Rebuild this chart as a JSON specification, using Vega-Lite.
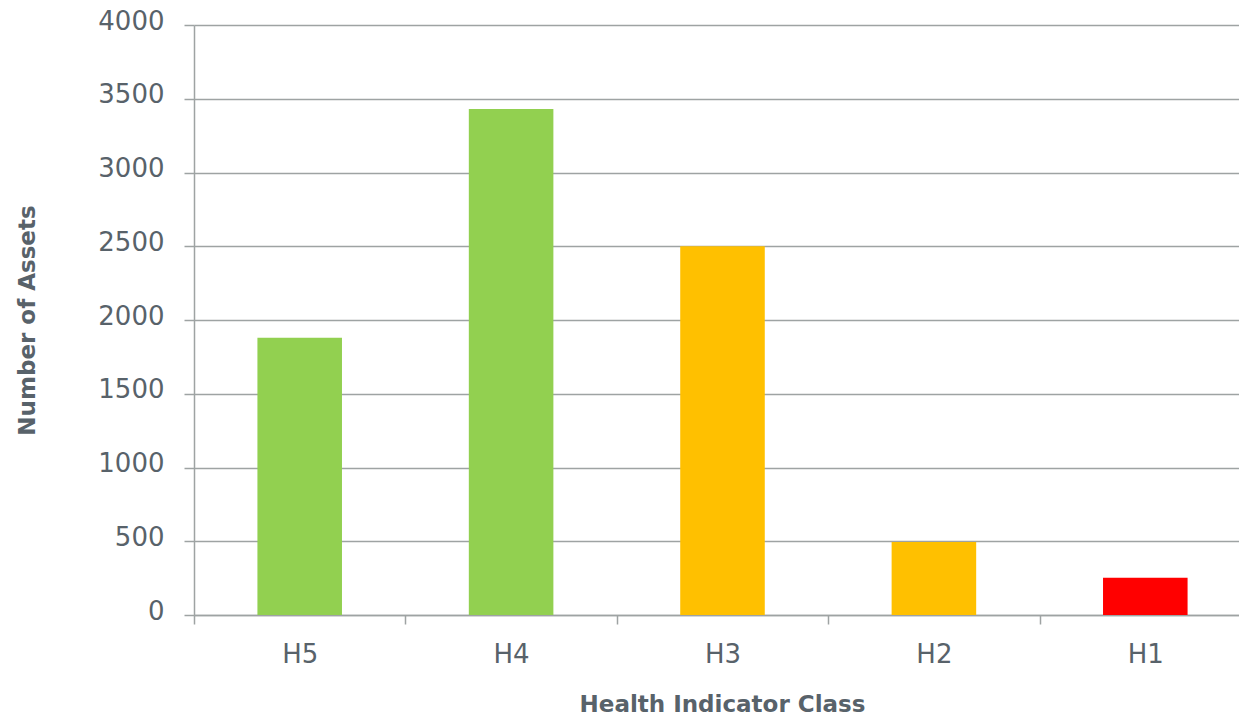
{
  "$schema": "https://vega.github.io/schema/vega-lite/v6.json",
  "autosize": {"type": "none"},
  "padding": {"left": 194, "top": 25, "right": 0, "bottom": 101},
  "width": 1045,
  "height": 590,
  "background": "white",
  "data": {
    "values": [
      {"cls": "H5", "assets": 1880, "grp": "good"},
      {"cls": "H4", "assets": 3430, "grp": "good"},
      {"cls": "H3", "assets": 2500, "grp": "fair"},
      {"cls": "H2", "assets": 495, "grp": "fair"},
      {"cls": "H1", "assets": 252, "grp": "poor"}
    ]
  },
  "config": {
    "view": {"stroke": null},
    "axis": {
      "labelFont": "DejaVu Sans",
      "labelFontSize": 26,
      "labelColor": "#58626a",
      "titleFont": "DejaVu Sans",
      "titleFontSize": 23,
      "titleFontWeight": "bold",
      "titleColor": "#58626a",
      "domainColor": "#9ea3a3",
      "domainWidth": 1.5,
      "tickColor": "#9ea3a3",
      "tickWidth": 1.5,
      "gridColor": "#9ea3a3",
      "gridWidth": 1.5
    }
  },
  "mark": {"type": "bar", "width": {"band": 0.4}},
  "encoding": {
    "x": {
      "field": "cls",
      "type": "nominal",
      "sort": ["H5", "H4", "H3", "H2", "H1"],
      "scale": {"range": [0, 1057], "paddingInner": 0, "paddingOuter": 0},
      "axis": {
        "title": "Health Indicator Class",
        "labelAngle": 0,
        "tickBand": "extent",
        "tickSize": 9,
        "labelPadding": 17,
        "titlePadding": 26,
        "titleX": 528,
        "grid": false
      }
    },
    "y": {
      "field": "assets",
      "type": "quantitative",
      "scale": {"domain": [0, 4000], "nice": false},
      "axis": {
        "title": "Number of Assets",
        "format": "d",
        "values": [0, 500, 1000, 1500, 2000, 2500, 3000, 3500, 4000],
        "tickSize": 10,
        "labelPadding": 20,
        "labelOffset": -4,
        "titleX": -167,
        "titleY": 295,
        "titleAngle": -90,
        "titleAlign": "center",
        "titleBaseline": "middle",
        "grid": true
      }
    },
    "color": {
      "field": "grp",
      "type": "nominal",
      "scale": {"domain": ["good", "fair", "poor"], "range": ["#92d050", "#ffc000", "#ff0000"]},
      "legend": null
    }
  }
}
